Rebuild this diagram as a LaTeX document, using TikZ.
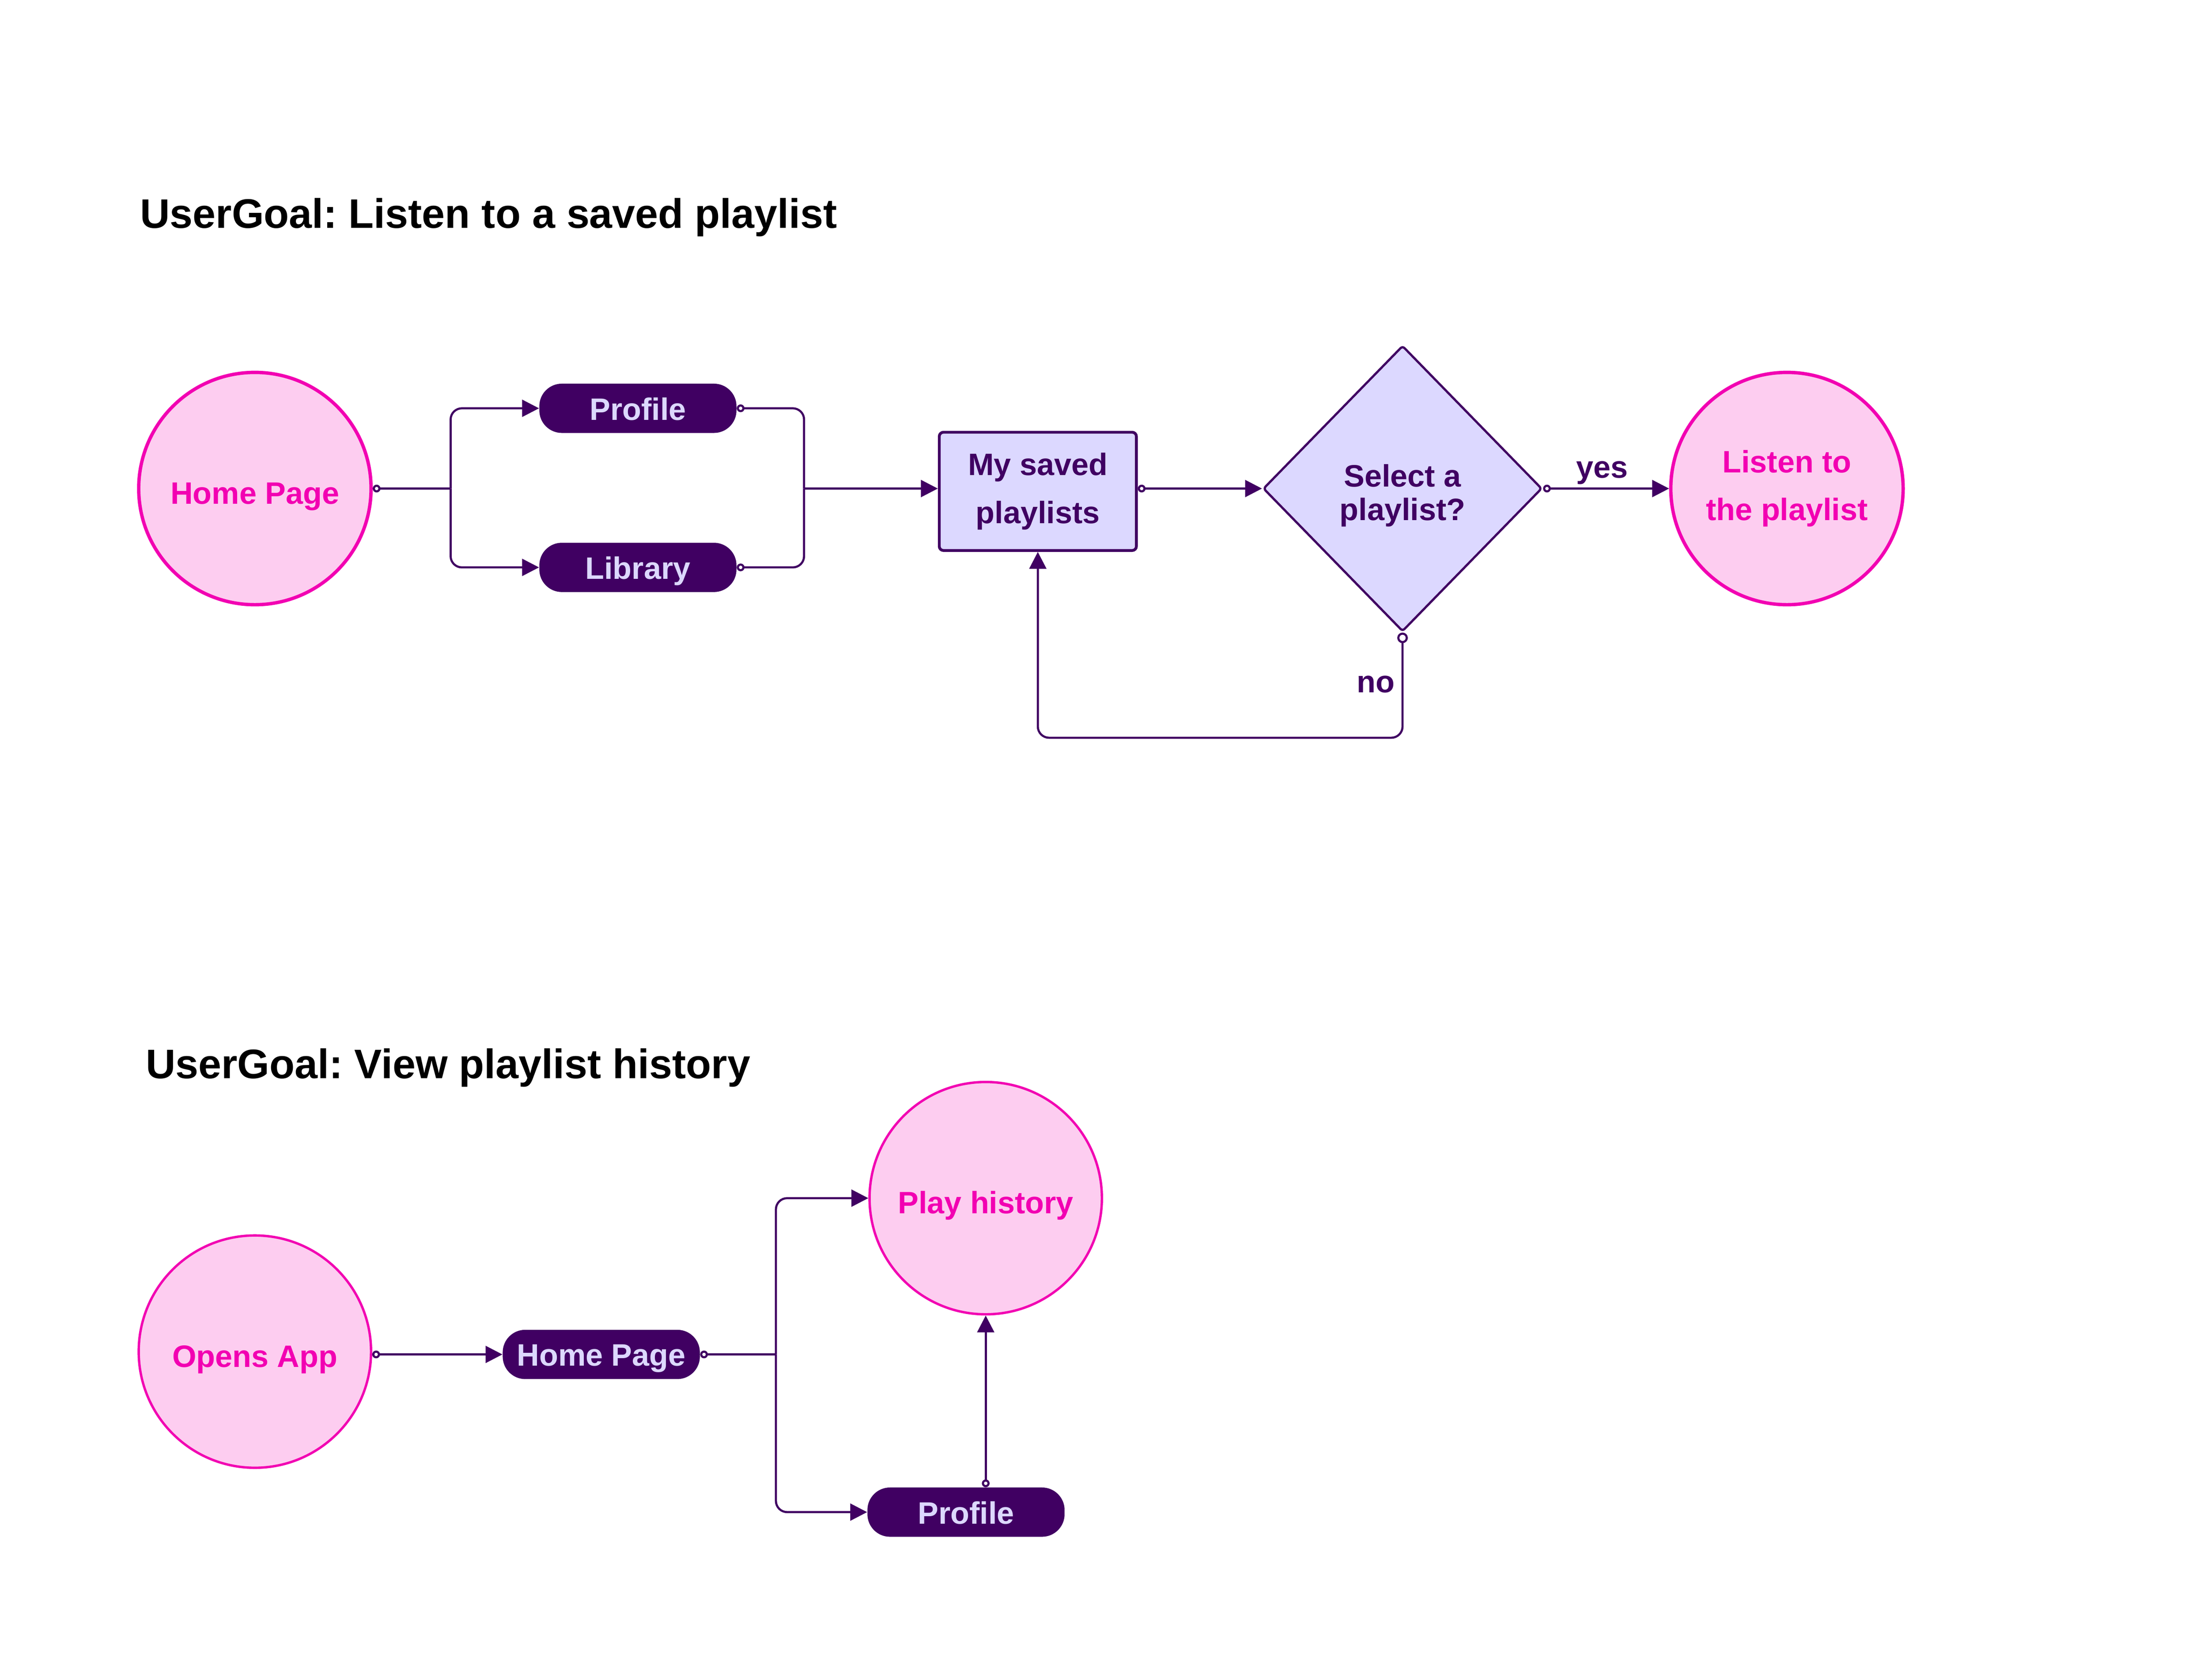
\documentclass[tikz,border=0pt]{standalone}
\usepackage{fontspec}
\setmainfont{Liberation Sans}
\usetikzlibrary{shapes.geometric,arrows.meta}
\definecolor{dpurple}{HTML}{400062}
\definecolor{lav}{HTML}{DCD8FF}
\definecolor{pinkfill}{HTML}{FDCDF0}
\definecolor{mag}{HTML}{F200B2}
\frenchspacing
\begin{document}
\begin{tikzpicture}[x=1pt,y=-1pt,
  nodefont/.style={font=\fontsize{22}{26}\selectfont\bfseries},
  widefont/.style={font=\fontsize{22}{34}\selectfont\bfseries},
  tightfont/.style={font=\fontsize{22}{24}\selectfont\bfseries},
  titlefont/.style={font=\fontsize{29.3}{34}\selectfont\bfseries},
  oneline/.style={text height=21.8pt, text depth=0pt},
  pillline/.style={text height=16.5pt, text depth=0pt},
  endcircle/.style={circle, draw=mag, fill=pinkfill, line width=2.4pt, minimum size=165pt, inner sep=0pt, text=mag, nodefont, align=center},
  endcirclethin/.style={endcircle, line width=1.7pt},
  pill/.style={rectangle, rounded corners=16pt, fill=dpurple, text=lav, minimum width=140pt, minimum height=35pt, inner sep=0pt, nodefont, pillline},
  stepbox/.style={rectangle, rounded corners=3pt, draw=dpurple, fill=lav, line width=2pt, minimum width=140pt, minimum height=84pt, inner sep=0pt, text=dpurple, widefont, align=center},
  decision/.style={diamond, draw=dpurple, fill=lav, line width=1.6pt, minimum width=198pt, minimum height=203pt, inner sep=0pt, text=dpurple, tightfont, align=center, rounded corners=2pt},
  conn/.style={draw=dpurple, line width=1.5pt, rounded corners=8pt},
  startdot/.style={conn, arrows={Circle[open,fill=white,length=5.5pt,width=5.5pt]-}},
  flow/.style={conn, arrows={Circle[open,fill=white,length=5.5pt,width=5.5pt]-Triangle[length=12pt,width=12pt]}},
  arr/.style={conn, arrows={-Triangle[length=12pt,width=12pt]}},
  lbl/.style={text=dpurple, nodefont}
]
\useasboundingbox (0,0) rectangle (1568,1193.2);

% ---------- Section 1 ----------
\node[titlefont, anchor=base west] (t1) at (96,162) {UserGoal: Listen to a saved playlist};

\node[endcircle, oneline] (home1) at (181,347) {Home Page};
\node[pill] (prof1) at (453,290) {Profile};
\node[pill] (lib1) at (453,403) {Library};
\node[stepbox] (saved) at (737,349) {My saved\\playlists};
\node[decision] (sel) at (996,347) {\rule{0pt}{26pt}Select a\\playlist?};
\node[endcircle, widefont] (listen) at (1269,347) {Listen to\\the playlist};

\coordinate (j1) at (320,347);
\coordinate (j2) at (571,347);
\coordinate (loop) at (996,524);

\draw[startdot] (home1.east) -- (j1);
\draw[arr] (j1) |- (prof1.west);
\draw[arr] (j1) |- (lib1.west);
\draw[startdot] (prof1.east) -| (j2);
\draw[startdot] (lib1.east) -| (j2);
\draw[arr] (j2) -- (saved.west |- j2);
\draw[flow] (saved.east |- sel.west) -- (sel.west);
\draw[flow] (sel.east) -- node[lbl, above, pos=0.47, yshift=-1pt] (yes) {yes} (listen.west);
\draw[conn, arrows={Circle[open,fill=white,length=7.5pt,width=7.5pt]-Triangle[length=12pt,width=12pt]}]
  (sel.south) -- (loop) -| (saved.south);
\node[lbl, anchor=east] (no) at (994,486) {no};

% ---------- Section 2 ----------
\node[titlefont, anchor=base west] (t2) at (100,766) {UserGoal: View playlist history};

\node[endcirclethin, oneline] (open) at (181,960) {Opens App};
\node[pill] (home2) at (427,962) {Home Page};
\node[endcirclethin, oneline] (play) at (700,851) {Play history};
\node[pill] (prof2) at (686,1074) {Profile};

\coordinate (j3) at (551,962);

\draw[flow] (home2.west -| open.east) -- (home2.west);
\draw[startdot] (home2.east) -- (j3);
\draw[arr] (j3) |- (play.west);
\draw[arr] (j3) |- (prof2.west);
\draw[flow] (prof2.north -| play.south) -- (play.south);
\end{tikzpicture}
\end{document}
